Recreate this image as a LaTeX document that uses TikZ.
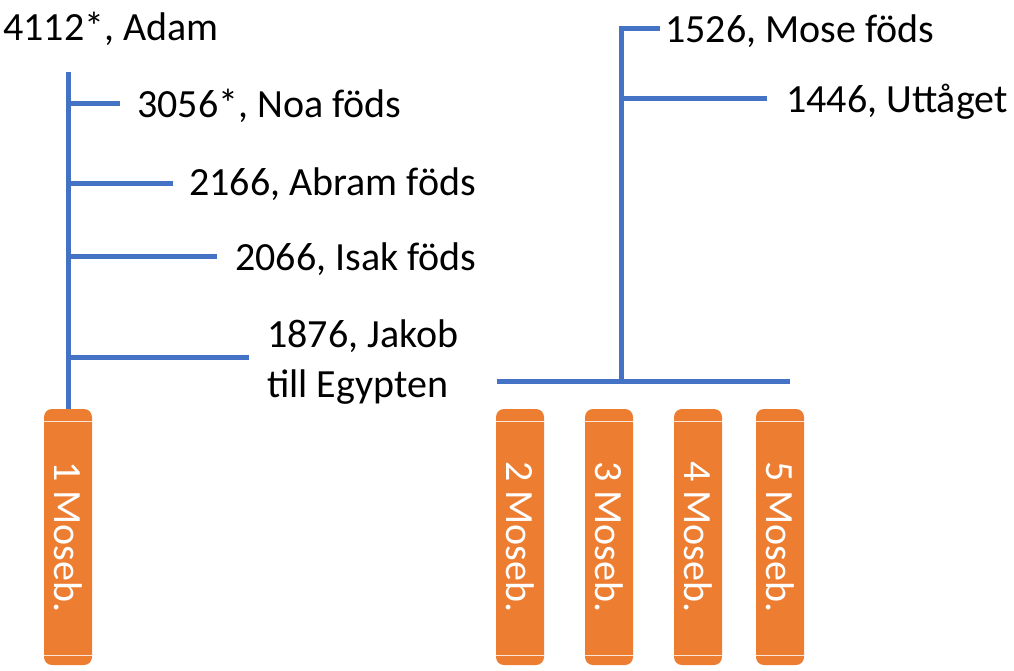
\documentclass[tikz,border=0pt]{standalone}
\usepackage{fontspec}
\setmainfont{Carlito}
\usetikzlibrary{positioning}
\definecolor{linjeBla}{RGB}{68,114,196}
\definecolor{bokOrange}{RGB}{237,125,49}

\begin{document}
\begin{tikzpicture}
	[
	x=1pt, y=-1pt,
        handelse/.style={
            anchor=base west,
            inner sep=0pt,
            align=left,
            font=\fontsize{40}{50}\selectfont
        },
        bok/.style={
            rectangle,
            rounded corners=8pt,
            fill=bokOrange,
            rotate=-90,
            minimum width=256pt,
            minimum height=48pt,
            inner sep=0pt,
            text=white,
            font=\fontsize{40}{48}\selectfont
        },
        bokkant/.style={
            draw=white!80!bokOrange,
            line width=0.8pt
        },
        tidslinje/.style={
            draw=linjeBla,
            line width=5pt
        }
    ]
    \useasboundingbox (0,0) rectangle (1014,670);

    % böckerna
    \foreach \nr/\x in {1/68,2/520,3/609,4/698,5/780}{
        \node(bok\nr) [bok] at (\x,537) {\nr{} Moseb.};
        \draw[bokkant] (\x-24,421) -- (\x+24,421);
        \draw[bokkant] (\x-24,655) -- (\x+24,655);
    }

    % vänstra tidslinjen
    \node(adam) [handelse] at (3,40) {4112*, Adam};
    \node(noa) [handelse] at (137,117) {3056*, Noa föds};
    \node(abram) [handelse] at (189,195) {2166, Abram föds};
    \node(isak) [handelse] at (235,270) {2066, Isak föds};
    \node(jakob) [handelse] at (267,397) {1876, Jakob\\till Egypten};

    \coordinate(vTopp) at (68,72);
    \coordinate(vNoa) at (68,103);
    \coordinate(vAbram) at (68,183);
    \coordinate(vIsak) at (68,256);
    \coordinate(vJakob) at (68,357);
    \coordinate(eNoa) at (120,103);
    \coordinate(eAbram) at (173,183);
    \coordinate(eIsak) at (217,256);
    \coordinate(eJakob) at (249,357);

    \draw[tidslinje] (vTopp)--(bok1.west);
    \draw[tidslinje] (vNoa)--(eNoa);
    \draw[tidslinje] (vAbram)--(eAbram);
    \draw[tidslinje] (vIsak)--(eIsak);
    \draw[tidslinje] (vJakob)--(eJakob);

    % högra tidslinjen
    \node(mose) [handelse] at (665,42) {1526, Mose föds};
    \node(uttaget) [handelse] at (786,112) {1446, Uttåget};

    \coordinate(hMose) at (660,28);
    \coordinate(hUttaget) at (767,98);
    \coordinate(hFot) at (621,381);
    \coordinate(fotV) at (497,381);
    \coordinate(fotH) at (790,381);

    \draw[tidslinje] (hMose)-|(hFot);
    \draw[tidslinje] (hFot|-hUttaget)--(hUttaget);
    \draw[tidslinje] (fotV)--(fotH);
\end{tikzpicture}
\end{document}
